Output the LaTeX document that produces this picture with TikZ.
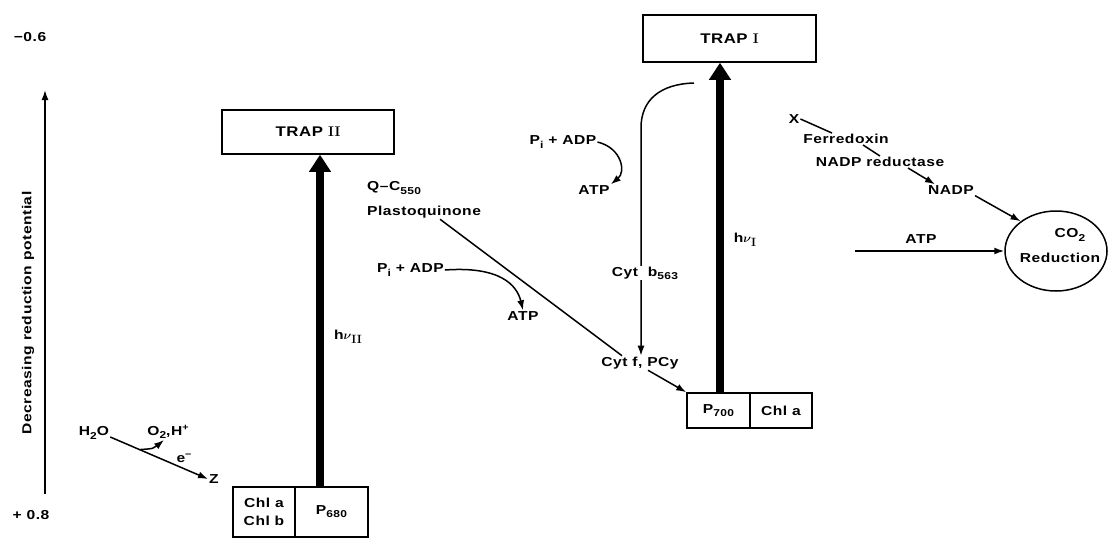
\documentclass[tikz,border=0pt]{standalone}
\usepackage{fontspec}
\usepackage{bm}
\usetikzlibrary{arrows.meta,shapes.geometric,calc}
\newfontfamily\lab{Liberation Sans}[FakeStretch=1.2,LetterSpace=4]
\newcommand\lsub[1]{\raisebox{-0.45ex}{\fontsize{10}{10}\selectfont #1}}
\newcommand\lsup[1]{\raisebox{0.75ex}{\fontsize{9}{9}\selectfont #1}}
\newcommand\rnum[1]{{\normalfont\bfseries #1}}
\newcommand\hvsub[1]{\raisebox{-0.5ex}{\fontsize{12}{12}\selectfont\normalfont\bfseries #1}}
\begin{document}
\begin{tikzpicture}[x=1pt,y=-1pt,
  every node/.style={font=\lab\bfseries\fontsize{13}{15}\selectfont, inner sep=1pt},
  box/.style={draw, line width=1.5pt, inner sep=0pt},
  trap/.style={box, font=\lab\bfseries\fontsize{14}{16}\selectfont},
  arr/.style={-{Latex[length=10pt,width=7pt]}, line width=1.5pt},
  heavy/.style={-{Triangle[length=17pt,width=21pt]}, line width=8pt},
  ln/.style={line width=1.5pt}]
\useasboundingbox (0,0) rectangle (1108,538);

% axis
\node (m06) at (30,37) {−0.6};
\node (p08) at (31,515) {+ 0.8};
\coordinate (axb) at (45,494);
\coordinate (axt) at (45,90);
\draw[arr] (axb) -- (axt);
\node[rotate=90] (axl) at (28,313) {Decreasing reduction potential};

% photosystem II
\node[trap, minimum width=172pt, minimum height=44pt] (t2) at (308,132) {TRAP \rnum{II}};
\node[box, minimum width=62pt, minimum height=50pt, align=center,
      font=\lab\bfseries\fontsize{13}{18}\selectfont] (chl) at (264,512) {Chl a\\Chl b};
\node[box, minimum width=73pt, minimum height=50pt] (p680) at (331.5,512) {P\lsub{680}};
\coordinate (x2) at (320,0);
\draw[heavy] (p680.north -| x2) -- (t2.south -| x2);
\node (hv2) at (348,337) {h$\bm{\nu}$\hvsub{II}};

% water splitting
\node (h2o) at (94,433) {H\lsub{2}O};
\node (z) at (214,479) {Z};
\draw[arr] ([yshift=-4pt]h2o.east) -- (z.west);
\coordinate (br) at ($([yshift=-4pt]h2o.east)!0.3!(z.west)$);
\node (o2) at (168,432) {O\lsub{2},H\lsup{+}};
\node (em) at (184,458) {e\lsup{−}};
\draw[arr] (br) .. controls ($(br)+(14,-1)$) .. ([xshift=-4pt]o2.south);

% plastoquinone chain
\node[anchor=west] (qc) at (366,188) {Q–C\lsub{550}};
\node[anchor=west] (pq) at (366,212) {Plastoquinone};
\node (cytf) at (640,363) {Cyt f, PCy};
\draw[ln] ([xshift=16pt]pq.south) -- ([xshift=-18pt]cytf.north);

\node[anchor=west] (pa2) at (376,270) {P\lsub{i} + ADP};
\node (atp2) at (523,316) {ATP};
\draw[arr] (pa2.east) .. controls (500,266) and (517,285) .. (atp2.north);

% photosystem I
\node[trap, minimum width=173pt, minimum height=47pt] (t1) at (729.5,38.5) {TRAP \rnum{I}};
\node[box, minimum width=63pt, minimum height=35pt] (p700) at (718.5,410.5) {P\lsub{700}};
\node[box, minimum width=62pt, minimum height=35pt] (chla) at (781,410.5) {Chl a};
\coordinate (x1) at (720,0);
\draw[heavy] (p700.north -| x1) -- (t1.south -| x1);
\node (hv1) at (745,240) {h$\bm{\nu}$\hvsub{I}};
\draw[arr] ([xshift=8pt]cytf.south) -- (p700.north west);

% cyclic path
\coordinate (cs) at (694,83);
\coordinate (cx) at (641,0);
\draw[arr] (cs) .. controls (660,84) and (641,100) .. (641,128) -- (cytf.north -| cx);
\node[fill=white] (cytb) at (645,273) {Cyt\ \ b\lsub{563}};

\node (pa1) at (563,142) {P\lsub{i} + ADP};
\node (atp1) at (594,190) {ATP};
\draw[arr] (pa1.east) .. controls (622,148) and (626,172) .. (atp1.north east);

% NADP side
\node (xx) at (794,119) {X};
\node (fd) at (846,139) {Ferredoxin};
\node (nr) at (880,162) {NADP reductase};
\node (nadp) at (951,190) {NADP};
\draw[ln] (xx.east) -- ([xshift=-14pt]fd.north);
\draw[ln] ([xshift=17pt]fd.south) -- (nr.north);
\draw[arr] ([xshift=28pt]nr.south) -- ([xshift=-16pt]nadp.north);

\node[draw, ellipse, line width=1.5pt, minimum width=102pt, minimum height=80pt, inner sep=0pt] (co2) at (1056,251) {};
\node (co2a) at (1070,235) {CO\lsub{2}};
\node (co2b) at (1060,258) {Reduction};
\draw[arr] (nadp.south east) -- (co2.140);
\node (atp3) at (921,239) {ATP};
\coordinate (atps) at (855,251);
\draw[arr] (atps) -- (co2.west);
\end{tikzpicture}
\end{document}
